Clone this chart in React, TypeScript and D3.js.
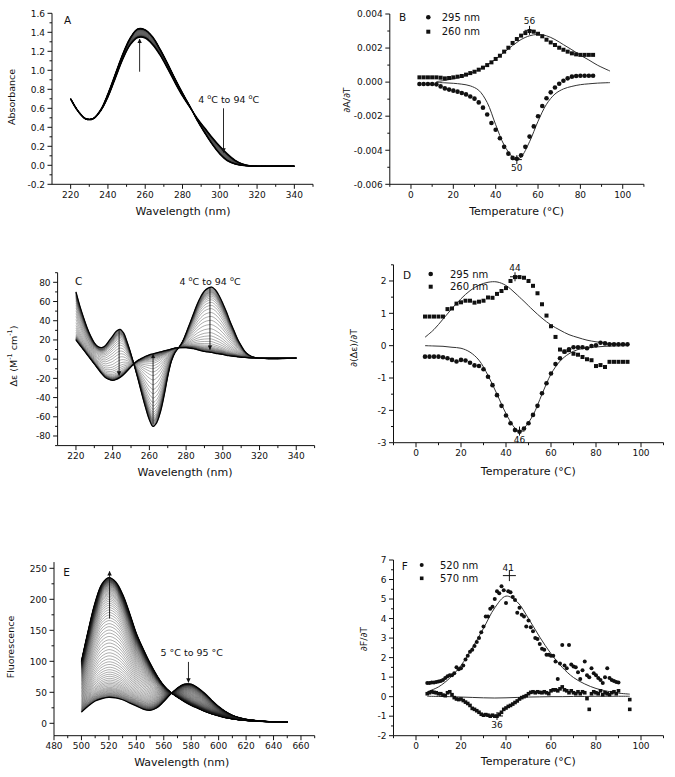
import React from 'react';
import * as d3 from 'd3';

const FONT = "'DejaVu Sans', 'Liberation Sans', Arial, sans-serif";

// ---------------- Panel A : UV absorbance spectra (4 °C .. 94 °C) ----------------
const uvWavelengths = [220, 224, 228, 232, 236, 240, 244, 248, 252, 256, 260, 264, 268, 272, 276, 280, 284, 288, 292, 296, 300, 304, 308, 312, 316, 320, 330, 340];
const uvAbs4C = [0.70, 0.57, 0.49, 0.49, 0.57, 0.72, 0.92, 1.12, 1.27, 1.345, 1.34, 1.27, 1.16, 1.02, 0.87, 0.73, 0.61, 0.49, 0.39, 0.29, 0.2, 0.12, 0.055, 0.015, -0.005, -0.01, -0.01, -0.01];
const uvAbs94C = [0.70, 0.57, 0.49, 0.49, 0.58, 0.75, 0.96, 1.17, 1.34, 1.435, 1.425, 1.35, 1.22, 1.07, 0.91, 0.76, 0.62, 0.47, 0.34, 0.22, 0.12, 0.05, 0.015, 0.0, -0.008, -0.01, -0.01, -0.01];
// unfolded fraction for each recorded temperature 4,6,...,94 °C
const meltFraction4to94 = [0, 0.01, 0.02, 0.03, 0.04, 0.05, 0.06, 0.07, 0.08, 0.09, 0.105, 0.12, 0.14, 0.165, 0.195, 0.235, 0.28, 0.33, 0.39, 0.45, 0.51, 0.575, 0.64, 0.70, 0.75, 0.795, 0.835, 0.87, 0.895, 0.915, 0.93, 0.94, 0.95, 0.958, 0.965, 0.97, 0.975, 0.98, 0.984, 0.988, 0.991, 0.994, 0.996, 0.998, 0.999, 1.0];
const aXMajor = [220, 240, 260, 280, 300, 320, 340];
const aXMinor = [230, 250, 270, 290, 310, 330, 350];
const aYMajor = [-0.2, 0, 0.2, 0.4, 0.6, 0.8, 1.0, 1.2, 1.4, 1.6];
const aYMinor = [-0.1, 0.1, 0.3, 0.5, 0.7, 0.9, 1.1, 1.3, 1.5];

// ---------------- Panel B : dA/dT ----------------
const bTemps = [4, 6, 8, 10, 12, 14, 16, 18, 20, 22, 24, 26, 28, 30, 32, 34, 36, 38, 40, 42, 44, 46, 48, 50, 52, 54, 56, 58, 60, 62, 64, 66, 68, 70, 72, 74, 76, 78, 80, 82, 84, 86];
const b295 = [-0.00011, -0.00011, -0.00011, -0.00011, -0.00013, -0.00025, -0.00037, -0.00044, -0.0005, -0.00056, -0.00064, -0.00072, -0.00084, -0.00097, -0.00119, -0.0015, -0.0019, -0.0024, -0.0028, -0.0033, -0.0038, -0.0042, -0.00445, -0.0045, -0.0043, -0.0038, -0.0032, -0.0026, -0.002, -0.0014, -0.00095, -0.0006, -0.00032, -0.0001, 0.00008, 0.00022, 0.00032, 0.00036, 0.00037, 0.00037, 0.00037, 0.00037];
const b260 = [0.00028, 0.00028, 0.00028, 0.00028, 0.00028, 0.00026, 0.00022, 0.00024, 0.00028, 0.00032, 0.00036, 0.00044, 0.00053, 0.00061, 0.00073, 0.00085, 0.001, 0.00116, 0.00136, 0.00155, 0.00179, 0.00202, 0.0023, 0.00253, 0.00273, 0.00288, 0.003, 0.00296, 0.00284, 0.00269, 0.00249, 0.00233, 0.00218, 0.00202, 0.0019, 0.00179, 0.00169, 0.00163, 0.0016, 0.0016, 0.0016, 0.0016];
const bFitTemps = [12, 16, 20, 24, 28, 32, 36, 40, 44, 48, 50, 52, 56, 60, 64, 68, 72, 76, 80, 84, 88, 94];
const b260Fit = [0.00003, 0.0001, 0.0002, 0.00032, 0.0005, 0.00072, 0.001, 0.00136, 0.00175, 0.00215, 0.00233, 0.0025, 0.00272, 0.0028, 0.00272, 0.0025, 0.0022, 0.0019, 0.00158, 0.0013, 0.001, 0.00065];
const b295Fit = [-0.00002, -0.00004, -0.00007, -0.00012, -0.00022, -0.00048, -0.0012, -0.0025, -0.0037, -0.0044, -0.00452, -0.0044, -0.0035, -0.0023, -0.0013, -0.0007, -0.0004, -0.00025, -0.00015, -0.0001, -0.00006, -0.00003];
const tXMajor = [0, 20, 40, 60, 80, 100];
const tXMinor = [-10, 10, 30, 50, 70, 90, 110];
const bYMajor = [-0.006, -0.004, -0.002, 0, 0.002, 0.004];
const bYMinor = [-0.005, -0.003, -0.001, 0.001, 0.003];

// ---------------- Panel C : CD spectra ----------------
const cdWavelengths = [220, 222, 224, 226, 228, 230, 232, 234, 236, 238, 240, 242, 244, 246, 248, 250, 252, 254, 256, 258, 260, 262, 264, 266, 268, 270, 272, 274, 276, 278, 280, 282, 284, 286, 288, 290, 292, 294, 296, 298, 300, 302, 304, 306, 308, 310, 312, 314, 316, 318, 320, 325, 330, 335, 340];
const cd4C = [70, 56, 44, 33, 24, 17, 13, 12, 14, 19, 24, 29, 31, 27, 17, 5, -8, -22, -37, -51, -63, -70, -66, -55, -38, -18, -2, 7, 12, 18, 27, 37, 47, 57, 65, 71, 74, 75, 72, 66, 58, 49, 39, 30, 21, 14, 8, 4.5, 2.5, 1.5, 1, 0.5, 0.5, 0.8, 1];
const cd94C = [20, 15, 10, 5, 0, -5, -10, -15, -19, -21, -22, -21, -19, -16, -12, -8, -4, -1, 1, 3, 4.5, 5.5, 6.5, 7.5, 8.5, 9.5, 10.5, 11.5, 12, 12, 12, 11.5, 11, 10, 9, 8, 7.5, 7, 6, 5.5, 5, 4, 3.5, 3, 2.5, 2, 1.8, 1.5, 1.3, 1.2, 1, 1, 1, 1, 1];
const cXMajor = [220, 240, 260, 280, 300, 320, 340];
const cXMinor = [230, 250, 270, 290, 310, 330, 350];
const cYMajor = [-80, -60, -40, -20, 0, 20, 40, 60, 80];
const cYMinor = [-90, -70, -50, -30, -10, 10, 30, 50, 70, 90];

// ---------------- Panel D : d(Δε)/dT ----------------
const dTemps = [4, 6, 8, 10, 12, 14, 16, 18, 20, 22, 24, 26, 28, 30, 32, 34, 36, 38, 40, 42, 44, 46, 48, 50, 52, 54, 56, 58, 60, 62, 64, 66, 68, 70, 72, 74, 76, 78, 80, 82, 84, 86, 88, 90, 92, 94];
const d295 = [-0.34, -0.34, -0.34, -0.34, -0.36, -0.39, -0.44, -0.49, -0.44, -0.46, -0.53, -0.61, -0.63, -0.73, -0.96, -1.22, -1.53, -1.86, -2.16, -2.4, -2.61, -2.66, -2.56, -2.4, -2.14, -1.86, -1.47, -1.16, -0.86, -0.57, -0.39, -0.19, -0.11, -0.05, -0.05, -0.05, -0.08, -0.01, 0.01, 0.09, 0.07, 0.04, 0.04, 0.04, 0.04, 0.04];
const d260 = [0.9, 0.9, 0.9, 0.9, 0.9, 1.13, 1.15, 1.3, 1.34, 1.39, 1.39, 1.33, 1.36, 1.39, 1.49, 1.48, 1.6, 1.69, 1.78, 2.0, 2.12, 2.12, 2.1, 2.0, 1.85, 1.62, 1.28, 0.93, 0.6, 0.27, -0.12, -0.18, -0.14, -0.25, -0.28, -0.35, -0.42, -0.45, -0.63, -0.6, -0.66, -0.5, -0.5, -0.5, -0.5, -0.5];
const dFitTemps = [4, 8, 12, 16, 20, 24, 28, 32, 36, 40, 44, 46, 48, 52, 56, 60, 64, 68, 72, 76, 80, 84, 88, 94];
const d260Fit = [0.26, 0.5, 0.82, 1.15, 1.45, 1.7, 1.87, 1.96, 1.97, 1.86, 1.63, 1.5, 1.37, 1.1, 0.85, 0.64, 0.48, 0.34, 0.25, 0.17, 0.12, 0.08, 0.06, 0.04];
const d295Fit = [0, -0.01, -0.02, -0.05, -0.08, -0.2, -0.45, -0.92, -1.5, -2.1, -2.55, -2.63, -2.55, -2.15, -1.5, -0.88, -0.48, -0.25, -0.12, -0.07, -0.04, -0.02, -0.01, 0];
const dYMajor = [-3, -2, -1, 0, 1, 2];
const dYMinor = [-2.5, -1.5, -0.5, 0.5, 1.5, 2.5];

// ---------------- Panel E : fluorescence spectra (5 °C .. 95 °C) ----------------
const flWavelengths = [500, 505, 510, 515, 520, 525, 530, 535, 540, 545, 550, 555, 560, 565, 570, 575, 580, 585, 590, 595, 600, 605, 610, 615, 620, 625, 630, 635, 640, 645, 650];
const fl5C = [18, 28, 36, 40, 42, 41, 38, 33, 28, 23, 21, 25, 35, 47, 57, 63, 63, 57, 48, 37, 27, 19, 13, 9, 6.5, 5, 3.8, 3, 2.5, 2.2, 2];
const fl95C = [100, 150, 195, 225, 235, 228, 208, 178, 145, 120, 97, 77, 61, 50, 42, 35, 29, 24, 19, 15, 12, 9, 7, 5.5, 4.5, 3.7, 3, 2.7, 2.5, 2.2, 2];
// unfolded fraction for each recorded temperature 5,6,...,95 °C
const meltFraction5to95 = [0, 0.003, 0.007, 0.010, 0.014, 0.018, 0.022, 0.027, 0.032, 0.038,
  0.044, 0.051, 0.058, 0.066, 0.074, 0.083, 0.094, 0.105, 0.117, 0.129,
  0.143, 0.158, 0.175, 0.192, 0.210, 0.230, 0.251, 0.274, 0.296, 0.320,
  0.346, 0.371, 0.398, 0.425, 0.453, 0.480, 0.508, 0.536, 0.562, 0.590,
  0.615, 0.641, 0.664, 0.687, 0.709, 0.730, 0.750, 0.769, 0.786, 0.803,
  0.818, 0.832, 0.845, 0.857, 0.867, 0.877, 0.887, 0.895, 0.903, 0.910,
  0.917, 0.923, 0.929, 0.934, 0.939, 0.943, 0.947, 0.951, 0.955, 0.958,
  0.961, 0.964, 0.966, 0.969, 0.971, 0.974, 0.976, 0.978, 0.980, 0.982,
  0.983, 0.985, 0.987, 0.989, 0.990, 0.992, 0.994, 0.995, 0.996, 0.998, 1.0];
const eXMajor = [480, 500, 520, 540, 560, 580, 600, 620, 640, 660];
const eXMinor = [490, 510, 530, 550, 570, 590, 610, 630, 650, 670];
const eYMajor = [0, 50, 100, 150, 200, 250];
const eYMinor = [25, 75, 125, 175, 225];

// ---------------- Panel F : dF/dT ----------------
const f520Temps = [5, 6, 7, 8, 9, 10, 11, 12, 13, 14, 15, 16, 17, 18, 19, 20, 21, 22, 23, 24, 25, 26, 27, 28, 29, 30, 31, 32, 33, 34, 35, 36, 37, 38, 39, 40, 41, 42, 43, 44, 45, 46, 47, 48, 49, 50, 51, 52, 53, 54, 55, 56, 57, 58, 59, 60, 61, 62, 63, 64, 65, 66, 67, 68, 69, 70, 71, 72, 73, 74, 75, 76, 77, 78, 79, 80, 81, 82, 83, 84, 85, 86, 87, 88, 89, 90];
const f520 = [0.7, 0.7, 0.72, 0.72, 0.75, 0.78, 0.8, 0.85, 0.95, 1.05, 1.1, 1.1, 1.2, 1.5, 1.4, 1.45, 1.6, 1.9, 2.1, 2.3, 2.4, 2.6, 2.8, 3.0, 3.3, 3.6, 4.1, 4.1, 4.5, 4.6, 5.0, 5.4, 5.3, 5.65, 5.45, 4.8, 5.4, 5.35, 5.1, 4.95, 4.3, 4.55, 4.2, 4.1, 3.6, 3.9, 3.55, 3.35, 3.0, 2.95, 2.7, 2.45, 2.4, 2.15, 2.15, 2.1, 2.1, 1.8, 0.9, 1.7, 2.65, 1.6, 1.45, 2.65, 1.65, 1.55, 1.5, 1.25, 0.9, 1.35, 1.8, 1.1, 1.0, 1.45, 1.2, 1.1, 0.95, 0.85, 0.7, 1.0, 1.45, 0.95, 0.85, 0.8, 0.75, 0.72];
const f570Temps = [5, 6, 7, 8, 9, 10, 11, 12, 13, 14, 15, 16, 17, 18, 19, 20, 21, 22, 23, 24, 25, 26, 27, 28, 29, 30, 31, 32, 33, 34, 35, 36, 37, 38, 39, 40, 41, 42, 43, 44, 45, 46, 47, 48, 49, 50, 51, 52, 53, 54, 55, 56, 57, 58, 59, 60, 61, 62, 63, 64, 65, 66, 67, 68, 69, 70, 71, 72, 73, 74, 75, 76, 77, 78, 79, 80, 81, 82, 83, 84, 85, 86, 87, 88, 89, 90, 95, 95];
const f570 = [0.15, 0.2, 0.25, 0.22, 0.2, 0.15, 0.15, 0.08, 0.05, 0.2, 0.25, 0.1, -0.05, -0.12, -0.15, -0.12, -0.2, -0.28, -0.35, -0.45, -0.6, -0.65, -0.72, -0.8, -0.9, -0.95, -0.92, -0.95, -1.0, -0.95, -1.0, -1.0, -0.9, -0.8, -0.65, -0.58, -0.5, -0.45, -0.38, -0.3, -0.22, -0.12, -0.05, 0.0, 0.05, 0.15, 0.22, 0.25, 0.2, 0.25, 0.22, 0.2, 0.25, 0.2, 0.15, 0.3, 0.35, 0.35, 0.3, 0.4, 0.5, 0.35, 0.3, 0.2, 0.3, 0.2, 0.15, 0.25, 0.15, 0.25, 0.2, -0.1, -0.65, 0.15, 0.25, 0.2, 0.15, 0.3, 0.1, 0.2, 0.15, 0.1, 0.2, 0.25, 0.15, 0.3, -0.15, -0.65];
const fFitTemps = [5, 10, 15, 20, 25, 30, 35, 40, 45, 50, 55, 60, 65, 70, 75, 80, 85, 90, 95];
const f520Fit = [0.25, 0.5, 0.95, 1.6, 2.5, 3.5, 4.55, 5.15, 4.85, 4.0, 3.05, 2.2, 1.5, 0.98, 0.65, 0.42, 0.28, 0.18, 0.13];
const f570Fit = [0.02, 0.01, 0, -0.02, -0.04, -0.06, -0.07, -0.06, -0.04, -0.02, -0.01, 0, 0, 0.01, 0.01, 0.02, 0.02, 0.02, 0.02];
const fYMajor = [-2, -1, 0, 1, 2, 3, 4, 5, 6, 7];
const fYMinor = [-1.5, -0.5, 0.5, 1.5, 2.5, 3.5, 4.5, 5.5, 6.5];

type Lin = d3.ScaleLinear<number, number>;
type Pt = [number, number];

const smooth = (x: Lin, y: Lin) =>
  d3.line<Pt>().x(d => x(d[0])).y(d => y(d[1])).curve(d3.curveCatmullRom.alpha(0.5));

const zip = (a: number[], b: number[]): Pt[] => a.map((v, i) => [v, b[i]] as Pt);

// family of spectra: two measured end spectra weighted by the measured unfolded fraction
const family = (wl: number[], lo: number[], hi: number[], frac: number[]): Pt[][] =>
  frac.map(f => wl.map((w, i) => [w, lo[i] + f * (hi[i] - lo[i])] as Pt));

function Axes(props: {
  x: Lin; y: Lin; xExt: number[]; yExt: number[];
  xMajor: number[]; xMinor: number[]; yMajor: number[]; yMinor: number[];
  xFmt: (v: number) => string; yFmt: (v: number) => string;
}) {
  const { x, y, xExt, yExt, xMajor, xMinor, yMajor, yMinor, xFmt, yFmt } = props;
  const x0 = x(xExt[0]), x1 = x(xExt[1]);
  const y0 = y(yExt[0]), y1 = y(yExt[1]);
  const st = { stroke: '#111', strokeWidth: 1 };
  return (
    <g fontFamily={FONT} fontSize={9} fill="#111">
      <line x1={x0} x2={x1} y1={y0} y2={y0} {...st} />
      <line x1={x0} x2={x0} y1={y0} y2={y1} {...st} />
      {xMinor.map(v => <line key={'xm' + v} x1={x(v)} x2={x(v)} y1={y0} y2={y0 + 2.5} {...st} />)}
      {xMajor.map(v => (
        <g key={'xM' + v}>
          <line x1={x(v)} x2={x(v)} y1={y0} y2={y0 + 4.5} {...st} />
          <text x={x(v)} y={y0 + 13.5} textAnchor="middle">{xFmt(v)}</text>
        </g>
      ))}
      {yMinor.map(v => <line key={'ym' + v} x1={x0} x2={x0 - 2.5} y1={y(v)} y2={y(v)} {...st} />)}
      {yMajor.map(v => (
        <g key={'yM' + v}>
          <line x1={x0} x2={x0 - 4.5} y1={y(v)} y2={y(v)} {...st} />
          <text x={x0 - 7} y={y(v) + 3.3} textAnchor="end">{yFmt(v)}</text>
        </g>
      ))}
    </g>
  );
}

function Cross({ cx, cy, w = 5, h = 4.5 }: { cx: number; cy: number; w?: number; h?: number }) {
  return (
    <g stroke="#111" strokeWidth={1}>
      <line x1={cx - w} x2={cx + w} y1={cy} y2={cy} />
      <line x1={cx} x2={cx} y1={cy - h} y2={cy + h} />
    </g>
  );
}

function Circles({ pts, x, y, r }: { pts: Pt[]; x: Lin; y: Lin; r: number }) {
  return <g fill="#111">{pts.map((p, i) => <circle key={i} cx={x(p[0])} cy={y(p[1])} r={r} />)}</g>;
}
function Squares({ pts, x, y, s }: { pts: Pt[]; x: Lin; y: Lin; s: number }) {
  return <g fill="#111">{pts.map((p, i) => <rect key={i} x={x(p[0]) - s / 2} y={y(p[1]) - s / 2} width={s} height={s} />)}</g>;
}

function YTitle({ x, y, children }: { x: number; y: number; children: React.ReactNode }) {
  return (
    <text transform={`translate(${x},${y}) rotate(-90)`} textAnchor="middle" dominantBaseline="central"
      fontFamily={FONT} fontSize={9.5} fill="#111">{children}</text>
  );
}
function XTitle({ x, y, children }: { x: number; y: number; children: React.ReactNode }) {
  return <text x={x} y={y} textAnchor="middle" fontFamily={FONT} fontSize={11} fill="#111">{children}</text>;
}
function Label({ x, y, children, size = 10, anchor = 'start' }: { x: number; y: number; children: React.ReactNode; size?: number; anchor?: string }) {
  return <text x={x} y={y} textAnchor={anchor as any} fontFamily={FONT} fontSize={size} fill="#111">{children}</text>;
}

const degSup = (a: string, b: string) => (
  <>
    {a}
    <tspan dy={-3.5} fontSize={6.5}>o</tspan>
    <tspan dy={3.5}>C to {b} </tspan>
    <tspan dy={-3.5} fontSize={6.5}>o</tspan>
    <tspan dy={3.5}>C</tspan>
  </>
);

export default function App() {
  const f1 = (v: number) => v.toFixed(1);
  const f3 = (v: number) => v.toFixed(3);
  const f0 = (v: number) => String(v);

  // scales
  const ax = d3.scaleLinear().domain([210, 350]).range([52, 313]);
  const ay = d3.scaleLinear().domain([-0.2, 1.6]).range([184.3, 13.3]);
  const bx = d3.scaleLinear().domain([-10, 110]).range([389.8, 643.9]);
  const by = d3.scaleLinear().domain([-0.006, 0.004]).range([184.3, 14]);
  const cx = d3.scaleLinear().domain([210, 350]).range([57.6, 314.6]);
  const cy = d3.scaleLinear().domain([-90, 90]).range([445.6, 272.7]);
  const dx = d3.scaleLinear().domain([-10, 110]).range([393.5, 663.5]);
  const dy = d3.scaleLinear().domain([-3, 2.5]).range([442.7, 264.8]);
  const ex = d3.scaleLinear().domain([480, 670]).range([54, 314.7]);
  const ey = d3.scaleLinear().domain([-20, 260]).range([735.7, 562.1]);
  const fx = d3.scaleLinear().domain([-10, 110]).range([393.5, 663.5]);
  const fy = d3.scaleLinear().domain([-2, 7]).range([735.7, 560]);

  const aLine = smooth(ax, ay);
  const cLine = smooth(cx, cy);
  const eLine = smooth(ex, ey);
  const bLine = smooth(bx, by);
  const dLine = smooth(dx, dy);
  const fLine = smooth(fx, fy);

  const uvFam = family(uvWavelengths, uvAbs4C, uvAbs94C, meltFraction4to94);
  const cdFam = family(cdWavelengths, cd4C, cd94C, meltFraction4to94);
  const flFam = family(flWavelengths, fl5C, fl95C, meltFraction5to95);

  const uvArea = d3.area<number>()
    .x((_, i) => ax(uvWavelengths[i]))
    .y0((_, i) => ay(uvAbs4C[i]))
    .y1((_, i) => ay(uvAbs94C[i]))
    .curve(d3.curveCatmullRom.alpha(0.5));

  return (
    <svg width={675} height={777} viewBox="0 0 675 777"
      style={{ position: 'absolute', left: 0, top: 0, background: '#fff' }}>
      <defs>
        <marker id="ah" viewBox="0 0 6 6" refX={5.5} refY={3} markerWidth={5} markerHeight={5} orient="auto">
          <path d="M0,0 L6,3 L0,6 z" fill="#111" />
        </marker>
      </defs>
      <rect x={0} y={0} width={675} height={777} fill="#fff" />

      {/* ---------------- A ---------------- */}
      <path d={uvArea(uvWavelengths) || ''} fill="#8a8a8a" />
      <g fill="none" stroke="#111" strokeWidth={0.35} strokeOpacity={0.55}>
        {uvFam.map((c, i) => <path key={i} d={aLine(c) || ''} />)}
      </g>
      <path d={aLine(zip(uvWavelengths, uvAbs4C)) || ''} fill="none" stroke="#000" strokeWidth={1.5} />
      <path d={aLine(zip(uvWavelengths, uvAbs94C)) || ''} fill="none" stroke="#000" strokeWidth={1.5} />
      <line x1={ax(257)} x2={ax(257)} y1={ay(0.985)} y2={ay(1.33)} stroke="#111" strokeWidth={0.9} markerEnd="url(#ah)" />
      <line x1={ax(302)} x2={ax(302)} y1={ay(0.6)} y2={ay(0.135)} stroke="#111" strokeWidth={0.9} markerEnd="url(#ah)" />
      <Label x={228.7} y={102.5} size={9.5} anchor="middle">{degSup('4 ', '94')}</Label>
      <Axes x={ax} y={ay} xExt={[210, 350]} yExt={[-0.2, 1.6]} xMajor={aXMajor} xMinor={aXMinor}
        yMajor={aYMajor} yMinor={aYMinor} xFmt={f0} yFmt={f1} />
      <Label x={64} y={23.5} size={10.5}>A</Label>
      <XTitle x={183} y={214.5}>Wavelength (nm)</XTitle>
      <YTitle x={11} y={97}>Absorbance</YTitle>

      {/* ---------------- B ---------------- */}
      <path d={bLine(zip(bFitTemps, b260Fit)) || ''} fill="none" stroke="#333" strokeWidth={1} />
      <path d={bLine(zip(bFitTemps, b295Fit)) || ''} fill="none" stroke="#333" strokeWidth={1} />
      <Squares pts={zip(bTemps, b260)} x={bx} y={by} s={4} />
      <Circles pts={zip(bTemps, b295)} x={bx} y={by} r={2.3} />
      <Cross cx={bx(56)} cy={by(0.00304)} />
      <Label x={bx(56)} y={by(0.00304) - 6} size={9} anchor="middle">56</Label>
      <Cross cx={bx(50)} cy={by(-0.00455)} />
      <Label x={bx(50)} y={by(-0.00455) + 11} size={9} anchor="middle">50</Label>
      <Axes x={bx} y={by} xExt={[-10, 110]} yExt={[-0.006, 0.004]} xMajor={tXMajor} xMinor={tXMinor}
        yMajor={bYMajor} yMinor={bYMinor} xFmt={f0} yFmt={f3} />
      <Label x={399} y={21} size={10.5}>B</Label>
      <circle cx={428.3} cy={17.3} r={2.3} fill="#111" />
      <rect x={426.3} y={29.7} width={4} height={4} fill="#111" />
      <Label x={441.7} y={20.8} size={10}>295 nm</Label>
      <Label x={441.7} y={35.2} size={10}>260 nm</Label>
      <XTitle x={516.7} y={214.5}>Temperature (°C)</XTitle>
      <YTitle x={346} y={100}>∂A/∂T</YTitle>

      {/* ---------------- C ---------------- */}
      <g fill="none" stroke="#3a3a3a" strokeWidth={0.5} strokeOpacity={0.85}>
        {cdFam.map((c, i) => <path key={i} d={cLine(c) || ''} />)}
      </g>
      <path d={cLine(zip(cdWavelengths, cd4C)) || ''} fill="none" stroke="#000" strokeWidth={1.3} />
      <path d={cLine(zip(cdWavelengths, cd94C)) || ''} fill="none" stroke="#000" strokeWidth={1.3} />
      <line x1={cx(243.5)} x2={cx(243.5)} y1={cy(31)} y2={cy(-17)} stroke="#111" strokeWidth={0.9} markerEnd="url(#ah)" />
      <line x1={cx(262)} x2={cx(262)} y1={cy(-68)} y2={cy(5)} stroke="#111" strokeWidth={0.9} markerEnd="url(#ah)" />
      <line x1={cx(293)} x2={cx(293)} y1={cy(74)} y2={cy(10)} stroke="#111" strokeWidth={0.9} markerEnd="url(#ah)" />
      <Label x={210} y={284.5} size={9.5} anchor="middle">{degSup('4 ', '94')}</Label>
      <Axes x={cx} y={cy} xExt={[210, 350]} yExt={[-90, 90]} xMajor={cXMajor} xMinor={cXMinor}
        yMajor={cYMajor} yMinor={cYMinor} xFmt={f0} yFmt={f0} />
      <Label x={75} y={284.5} size={10.5}>C</Label>
      <XTitle x={185} y={476}>Wavelength (nm)</XTitle>
      <YTitle x={13} y={356}>
        Δε (M<tspan dy={-3.5} fontSize={6.5}>-1</tspan><tspan dy={3.5}> cm</tspan><tspan dy={-3.5} fontSize={6.5}>-1</tspan><tspan dy={3.5}>)</tspan>
      </YTitle>

      {/* ---------------- D ---------------- */}
      <path d={dLine(zip(dFitTemps, d260Fit)) || ''} fill="none" stroke="#333" strokeWidth={1} />
      <path d={dLine(zip(dFitTemps, d295Fit)) || ''} fill="none" stroke="#333" strokeWidth={1} />
      <Squares pts={zip(dTemps, d260)} x={dx} y={dy} s={4} />
      <Circles pts={zip(dTemps, d295)} x={dx} y={dy} r={2.3} />
      <Cross cx={dx(44)} cy={dy(2.13)} />
      <Label x={dx(44)} y={dy(2.13) - 6} size={9} anchor="middle">44</Label>
      <Cross cx={dx(46)} cy={dy(-2.64)} />
      <Label x={dx(46)} y={dy(-2.64) + 11.5} size={9} anchor="middle">46</Label>
      <Axes x={dx} y={dy} xExt={[-10, 110]} yExt={[-3, 2.5]} xMajor={tXMajor} xMinor={tXMinor}
        yMajor={dYMajor} yMinor={dYMinor} xFmt={f0} yFmt={f0} />
      <Label x={403} y={278.5} size={10.5}>D</Label>
      <circle cx={430.7} cy={274} r={2.3} fill="#111" />
      <rect x={428.7} y={284.7} width={4} height={4} fill="#111" />
      <Label x={450} y={277.5} size={10}>295 nm</Label>
      <Label x={450} y={290.2} size={10}>260 nm</Label>
      <XTitle x={528.3} y={474.5}>Temperature (°C)</XTitle>
      <YTitle x={353} y={348}>∂(Δε)/∂T</YTitle>

      {/* ---------------- E ---------------- */}
      <g fill="none" stroke="#1a1a1a" strokeWidth={0.45} strokeOpacity={0.8}>
        {flFam.map((c, i) => <path key={i} d={eLine(c) || ''} />)}
      </g>
      <path d={eLine(zip(flWavelengths, fl5C)) || ''} fill="none" stroke="#000" strokeWidth={1.3} />
      <path d={eLine(zip(flWavelengths, fl95C)) || ''} fill="none" stroke="#000" strokeWidth={1.3} />
      <line x1={ex(520.5)} x2={ex(520.5)} y1={ey(169)} y2={ey(245)} stroke="#111" strokeWidth={0.9} markerEnd="url(#ah)" />
      <line x1={ex(578)} x2={ex(578)} y1={ey(99)} y2={ey(66)} stroke="#111" strokeWidth={0.9} markerEnd="url(#ah)" />
      <Label x={191.7} y={655.8} size={9.5} anchor="middle">5 °C to 95 °C</Label>
      <Axes x={ex} y={ey} xExt={[480, 670]} yExt={[-20, 260]} xMajor={eXMajor} xMinor={eXMinor}
        yMajor={eYMajor} yMinor={eYMinor} xFmt={f0} yFmt={f0} />
      <Label x={63.3} y={576} size={10.5}>E</Label>
      <XTitle x={181.7} y={766}>Wavelength (nm)</XTitle>
      <YTitle x={10} y={647}>Fluorescence</YTitle>

      {/* ---------------- F ---------------- */}
      <path d={fLine(zip(fFitTemps, f520Fit)) || ''} fill="none" stroke="#333" strokeWidth={1} />
      <path d={fLine(zip(fFitTemps, f570Fit)) || ''} fill="none" stroke="#333" strokeWidth={1} />
      <Circles pts={zip(f520Temps, f520)} x={fx} y={fy} r={2} />
      <Squares pts={zip(f570Temps, f570)} x={fx} y={fy} s={3.6} />
      <Cross cx={fx(41.5)} cy={fy(6.2)} w={6.5} h={5.5} />
      <Label x={fx(41)} y={fy(6.2) - 5} size={9} anchor="middle">41</Label>
      <Cross cx={fx(36)} cy={fy(-0.99)} w={6} h={4} />
      <Label x={fx(36)} y={fy(-0.99) + 12.3} size={9} anchor="middle">36</Label>
      <Axes x={fx} y={fy} xExt={[-10, 110]} yExt={[-2, 7]} xMajor={tXMajor} xMinor={tXMinor}
        yMajor={fYMajor} yMinor={fYMinor} xFmt={f0} yFmt={f0} />
      <Label x={401.7} y={569.5} size={10.5}>F</Label>
      <circle cx={421.7} cy={565} r={2} fill="#111" />
      <rect x={419.9} y={576.5} width={3.6} height={3.6} fill="#111" />
      <Label x={440} y={568.5} size={10}>520 nm</Label>
      <Label x={440} y={581.8} size={10}>570 nm</Label>
      <XTitle x={528.3} y={765}>Temperature (°C)</XTitle>
      <YTitle x={363} y={639}>∂F/∂T</YTitle>
    </svg>
  );
}
